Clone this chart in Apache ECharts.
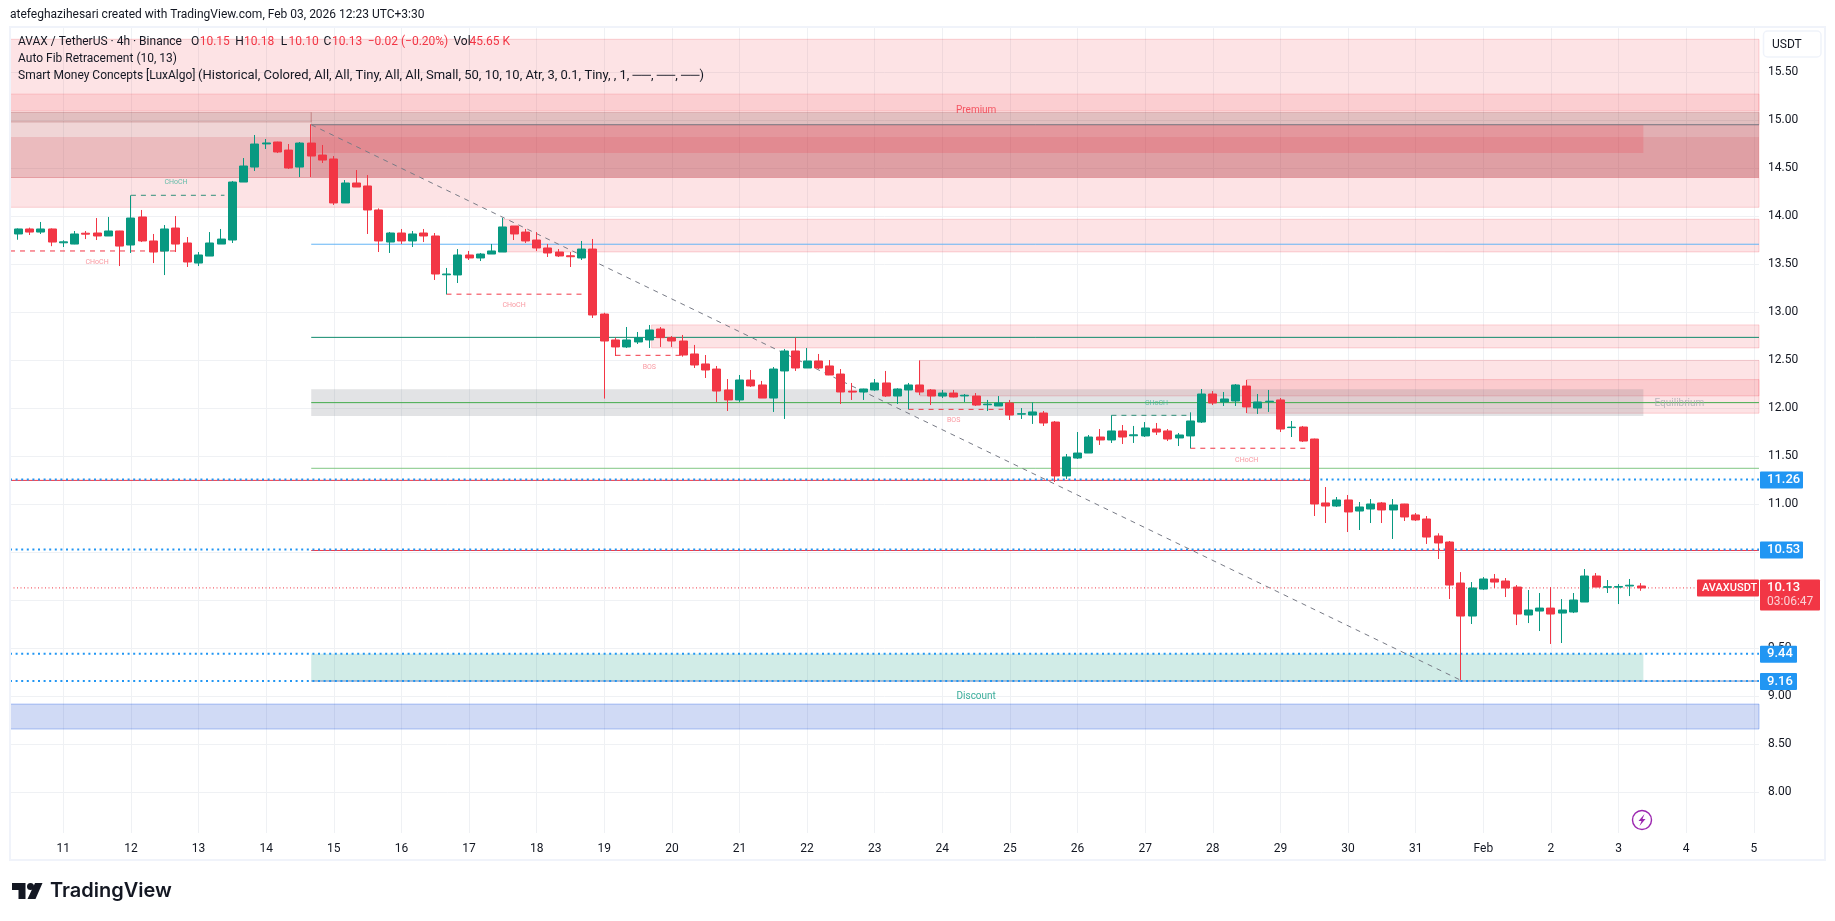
<!DOCTYPE html>
<html><head><meta charset="utf-8">
<style>html,body{margin:0;padding:0;background:#fff}#c{width:1835px;height:921px}</style>
<script src="https://cdn.jsdelivr.net/npm/echarts@6/dist/echarts.min.js"></script>
</head><body><div id="c"></div>
<script>
const opens=[13.69,13.817,13.869,13.837,13.869,13.725,13.712,13.825,13.827,13.796,13.848,13.702,13.994,13.744,13.639,13.879,13.723,13.514,13.587,13.712,13.754,14.358,14.514,14.755,14.775,14.691,14.514,14.764,14.639,14.598,14.14,14.348,14.317,14.067,13.733,13.827,13.744,13.827,13.796,13.392,13.39,13.598,13.567,13.608,13.629,13.9,13.837,13.754,13.671,13.629,13.59,13.567,13.66,12.983,12.713,12.64,12.692,12.713,12.827,12.737,12.702,12.567,12.463,12.41,12.192,12.088,12.296,12.244,12.108,12.39,12.598,12.421,12.494,12.442,12.358,12.18,12.171,12.192,12.265,12.129,12.192,12.244,12.192,12.129,12.16,12.13,12.129,12.038,12.025,12.056,11.94,11.931,11.952,11.858,11.296,11.483,11.535,11.702,11.671,11.765,11.715,11.713,11.785,11.765,11.692,11.713,11.858,12.15,12.067,12.077,12.233,12.004,12.07,12.088,11.8,11.806,11.681,11.015,10.983,11.046,10.931,10.952,11.015,10.942,11.004,10.89,10.848,10.671,10.608,10.181,9.837,10.118,10.223,10.202,10.139,9.848,9.889,9.92,9.868,9.879,9.983,10.254,10.136,10.138,10.15,10.15];
const closes=[13.82,13.869,13.837,13.869,13.733,13.735,13.817,13.815,13.796,13.848,13.691,13.983,13.744,13.629,13.869,13.712,13.525,13.598,13.723,13.764,14.358,14.525,14.754,14.765,14.671,14.504,14.764,14.629,14.587,14.14,14.348,14.306,14.067,13.744,13.827,13.744,13.817,13.796,13.4,13.4,13.598,13.567,13.608,13.64,13.89,13.817,13.744,13.671,13.619,13.588,13.58,13.66,12.973,12.702,12.64,12.713,12.737,12.817,12.737,12.702,12.556,12.452,12.4,12.181,12.088,12.296,12.234,12.108,12.41,12.598,12.421,12.494,12.421,12.348,12.171,12.17,12.202,12.265,12.129,12.202,12.244,12.171,12.129,12.16,12.119,12.137,12.035,12.045,12.056,11.931,11.945,11.963,11.848,11.296,11.494,11.535,11.702,11.671,11.765,11.702,11.725,11.796,11.754,11.681,11.723,11.869,12.15,12.056,12.098,12.244,12.015,12.067,12.075,11.785,11.805,11.66,11.004,10.983,11.046,10.921,10.973,11.004,10.942,10.994,10.869,10.838,10.66,10.598,10.16,9.837,10.129,10.223,10.191,10.129,9.858,9.9,9.92,9.858,9.9,10.004,10.254,10.139,10.143,10.145,10.158,10.13];
const lows=[13.65,13.757,13.806,13.817,13.69,13.681,13.71,13.764,13.754,13.796,13.483,13.619,13.733,13.514,13.389,13.629,13.473,13.483,13.587,13.712,13.723,14.358,14.473,14.702,14.66,14.494,14.41,14.41,14.556,14.119,14.14,14.306,13.817,13.629,13.619,13.713,13.681,13.733,13.338,13.188,13.306,13.546,13.535,13.608,13.629,13.754,13.723,13.64,13.577,13.577,13.473,13.546,12.942,12.102,12.546,12.629,12.671,12.629,12.64,12.64,12.539,12.421,12.317,12.067,11.973,12.067,12.223,12.108,11.963,11.89,12.39,12.421,12.41,12.348,12.046,12.088,12.088,12.181,12.119,12.046,11.99,12.14,12.035,12.108,12.115,12.067,12.025,11.973,12.025,11.879,11.89,11.838,11.817,11.233,11.265,11.473,11.535,11.619,11.64,11.629,11.64,11.702,11.723,11.66,11.608,11.584,11.848,12.035,12.025,12.025,11.952,11.942,11.963,11.754,11.702,11.65,10.879,10.806,10.973,10.712,10.733,10.806,10.806,10.64,10.827,10.827,10.588,10.431,10.014,9.171,9.754,10.108,10.129,10.035,9.743,9.764,9.681,9.546,9.556,9.868,9.983,10.139,10.077,9.962,10.045,10.10];
const highs=[13.85,13.875,13.883,13.942,13.875,13.751,13.848,13.848,13.983,13.994,13.85,14.219,14.067,13.817,13.91,14.004,13.785,13.629,13.837,13.869,14.369,14.608,14.848,14.806,14.778,14.754,14.775,14.96,14.744,14.629,14.379,14.483,14.431,14.084,13.838,13.869,13.848,13.869,13.827,13.463,13.66,13.64,13.619,13.713,13.983,13.9,13.869,13.837,13.713,13.66,13.629,13.744,13.765,12.997,12.737,12.848,12.796,12.869,12.848,12.754,12.765,12.661,12.556,12.442,12.306,12.348,12.4,12.286,12.431,12.619,12.737,12.629,12.567,12.504,12.41,12.265,12.205,12.306,12.39,12.21,12.265,12.5,12.202,12.192,12.192,12.15,12.16,12.088,12.129,12.088,12.004,12.063,11.973,11.869,11.525,11.754,11.723,11.785,11.928,11.827,11.817,11.858,11.848,11.785,11.744,11.959,12.202,12.181,12.171,12.254,12.296,12.15,12.192,12.108,11.869,11.817,11.685,11.181,11.077,11.098,11.025,11.056,11.025,11.056,11.006,10.91,10.879,10.699,10.619,10.295,10.191,10.243,10.275,10.233,10.16,10.108,10.077,10.139,10.014,10.077,10.327,10.285,10.212,10.17,10.223,10.18];

const priceTicks=[8,8.5,9,9.5,10,10.5,11,11.5,12,12.5,13,13.5,14,14.5,15,15.5];
const dayTickLabels=['11','12','13','14','15','16','17','18','19','20','21','22','23','24','25','26','27','28','29','30','31','Feb','2','3','4','5'];

const fibStart=[27,14.955], fibEnd=[129,9.168];
const levelPrices={blue:13.71,teal:12.74,equilibrium:12.06,lightGreen:11.376,red1126:11.25,red1053:10.52,fibLow:9.16};
const dottedLevels=[11.26,10.53,9.445,9.16];
const lastPrice=10.13;
const structureRed=[[0,13.64,15],[39,13.19,51.3],[54,12.553,60],[80,11.99,88.4],[105,11.585,115.3]];
const structureGreen=[[11,14.22,19.3],[98,11.928,105]];
const labelTexts=['CHoCH','CHoCH','CHoCH','BOS','BOS','CHoCH','CHoCH','Equilibrium','Premium','Discount'];
const labelIndex=[8,15,45,57,84,102,110,148.4,86,86];
const labelPrice=[13.518,14.351,13.074,12.428,11.872,12.053,11.455,12.05,15.10,9.0];

// x axis is the bar number; a day is six 4h bars, Jan 11 is bar 5
const t=i=>i;
const xMin=0.272, xMax=155.46;
const yMax=15.973,yMin=7.577;
const dayTicks=dayTickLabels.map((_,i)=>5+6*i);
const candles=opens.map((o,i)=>[i,o,closes[i],lows[i],highs[i]]);

const UP='#089981',DN='#f23645';
function band(x1,x2,p1,p2,color,border){return [{xAxis:x1,yAxis:p1,itemStyle:{color,borderColor:border||'transparent',borderWidth:border?1:0}},{xAxis:x2,yAxis:p2}];}
const R=a=>`rgba(242,54,69,${a})`;
const bands=[
 band(xMin,xMax,15.845,14.095,R(.14),R(.2)),
 band(xMin,xMax,15.275,15.10,R(.12),R(.16)),
 band(xMin,t(27),15.084,14.983,'rgba(84,8,0,.16)','rgba(160,50,50,.25)'),
 band(xMin,t(27),14.983,14.827,'rgba(123,100,90,.1)'),
 band(xMin,t(27),14.827,14.407,'rgba(165,32,35,.2)'),
 band(t(27),xMax,15.084,14.955,'rgba(84,8,0,.16)','rgba(160,50,50,.2)'),
 band(t(27),xMax,14.955,14.827,'rgba(166,57,63,.3)'),
 band(t(27),xMax,14.827,14.407,'rgba(156,3,13,.3)'),
 band(xMin,xMax,14.407,14.40,'rgba(200,60,70,.5)'),
 band(t(27),t(145.2),14.955,14.66,R(.2)),
 band(t(44),xMax,13.97,13.63,R(.14),R(.2)),
 band(t(57.2),xMax,12.87,12.63,R(.14),R(.2)),
 band(t(81),xMax,12.5,12.13,R(.14),R(.2)),
 band(t(110),xMax,12.3,11.95,R(.14),R(.2)),
 band(t(27),t(145.2),12.2,11.92,'rgba(120,123,134,.215)'),
 band(t(27),t(145.2),9.445,9.16,'rgba(8,153,129,.19)'),
 band(xMin,xMax,8.92,8.66,'rgba(20,70,205,.2)','rgba(41,98,230,.35)')
];
function line(points,color,width,type,z){return {type:'line',data:points,showSymbol:false,symbol:'none',silent:true,animation:false,z:z||3,clip:true,lineStyle:{color,width,type:type||'solid',cap:'butt'}};}
const series=[{type:'line',data:[],silent:true,animation:false,z:1,markArea:{silent:true,animation:false,z:1,data:bands}}];
series.push(line([[t(27),levelPrices.blue],[xMax,levelPrices.blue]],'#64b5f6',1));
series.push(line([[t(27),levelPrices.teal],[xMax,levelPrices.teal]],'#0f8a6c',1));
series.push(line([[t(27),levelPrices.equilibrium],[xMax,levelPrices.equilibrium]],'#43ab4c',1));
series.push(line([[t(27),levelPrices.lightGreen],[xMax,levelPrices.lightGreen]],'#81c784',1));
series.push(line([[t(27),14.955],[xMax,14.955]],'#787b86',1));
series.push(line([[t(27),levelPrices.fibLow],[xMax,levelPrices.fibLow]],'#6d86b8',1));
series.push(line([[xMin,levelPrices.red1126],[t(116),levelPrices.red1126]],DN,1));
series.push(line([[t(27),levelPrices.red1053],[xMax,levelPrices.red1053]],DN,1));
dottedLevels.forEach(p=>series.push(line([[xMin,p],[xMax,p]],'#2196f3',2,[2,3.6])));
series.push(line([[xMin,lastPrice],[xMax,lastPrice]],DN,1,[1,2.5]));
series.push(line([[t(fibStart[0]),fibStart[1]],[t(fibEnd[0]),fibEnd[1]]],'#787b86',1,[5,5]));
structureRed.forEach(s=>series.push(line([[s[0]===0?xMin:t(s[0]),s[1]],[t(s[2]),s[1]]],DN,1,[5,5])));
structureGreen.forEach(s=>series.push(line([[t(s[0]),s[1]],[t(s[2]),s[1]]],'#2f8f79',1,[5,5])));
series.push({type:'candlestick',data:candles,barWidth:8.5,z:4,silent:true,animation:false,clip:true,
 itemStyle:{color:UP,color0:DN,borderColor:UP,borderColor0:DN,borderColorDoji:UP,borderWidth:1}});
const labelColor=['#f8808a','#3fb39b','#f8808a','#f8808a','#f8808a','#3fb39b','#f8808a','#a9abb3','#f23645','#089981'];
series.push({type:'scatter',symbolSize:0,silent:true,animation:false,z:5,
 data:labelTexts.map((s,i)=>({value:[t(labelIndex[i]),labelPrice[i]],label:{show:true,position:'inside',formatter:s,color:labelColor[i],fontFamily:'Roboto',fontSize:i>=7?10:7}}))});

const chart=echarts.init(document.getElementById('c'),null,{renderer:'canvas'});
chart.setOption({
 animation:false,backgroundColor:'#fff',
 grid:{left:10,right:76,top:27,bottom:88,show:false},
 tooltip:{show:false},
 xAxis:{type:'value',min:xMin,max:xMax,
  axisLine:{show:false},axisTick:{show:false,customValues:dayTicks},
  splitLine:{show:true,lineStyle:{color:'#eff1f4',width:1}},
  axisLabel:{customValues:dayTicks,margin:10,color:'#131722',fontFamily:'Roboto',fontSize:12,hideOverlap:false,
   formatter:v=>dayTickLabels[dayTicks.indexOf(+v)]||''}},
 yAxis:{type:'value',position:'right',min:yMin,max:yMax,
  axisLine:{show:false},axisTick:{show:false,customValues:priceTicks},
  splitLine:{show:true,lineStyle:{color:'#eff1f4',width:1}},
  axisLabel:{customValues:priceTicks,margin:9,color:'#131722',fontFamily:'Roboto',fontSize:12,align:'left',padding:[2,0,0,0],formatter:v=>(+v).toFixed(2)}},
 series
});

const yOf=p=>chart.convertToPixel({yAxisIndex:0},p);
const F='Roboto';
const txt=(x,y,s,fill,size,extra)=>({type:'text',z:50,silent:true,x,y,style:Object.assign({text:s,fill:fill||'#131722',fontFamily:F,fontSize:size||12,verticalAlign:'middle'},extra||{})});
const g=[];
g.push({type:'rect',z:39,silent:true,shape:{x:0,y:20,width:9,height:850},style:{fill:'#fff'}});
g.push({type:'rect',z:40,silent:true,shape:{x:10,y:27,width:1815,height:833},style:{fill:'none',stroke:'#f0f3fa',lineWidth:2}});
g.push(txt(10,15,'atefeghazihesari created with TradingView.com, Feb 03, 2026 12:23 UTC+3:30','#131722',12));
g.push(txt(18,41.7,'AVAX / TetherUS · 4h · Binance'));
[[191,'O'],[235.3,'H'],[280.7,'L'],[323.5,'C'],[453.5,'Vol']].forEach(a=>g.push(txt(a[0],41.7,a[1])));
[[199.7,'10.15'],[244,'10.18'],[288.5,'10.10'],[332,'10.13'],[367.7,'−0.02 (−0.20%)'],[469.4,'45.65 K']].forEach(a=>g.push(txt(a[0],41.7,a[1],DN)));
g.push(txt(18,59,'Auto Fib Retracement (10, 13)'));
g.push(txt(18,76,'Smart Money Concepts [LuxAlgo]'));
g.push(txt(198,76,'(Historical, Colored, All, All, Tiny, All, All, Small, 50, 10, 10, Atr, 3, 0.1, Tiny, , 1, ──, ──, ──)','#131722',13));
g.push({type:'rect',z:45,silent:true,shape:{x:1763.5,y:31,width:57.5,height:26,r:4},style:{fill:'#fff',stroke:'#f0f3fa',lineWidth:1.5}});
g.push(txt(1772,44.5,'USDT'));
const badge=(x,w,yc,h,color)=>({type:'rect',z:46,silent:true,shape:{x,y:yc-h/2,width:w,height:h,r:1},style:{fill:color}});
[[11.26,43],[10.53,43],[9.445,37],[9.16,37]].forEach(a=>{const y=yOf(a[0]);
 g.push(badge(1760,a[1],y+.5,17,'#2196f3'));
 g.push(txt(1767,y+.5,a[0]===9.445?'9.44':a[0].toFixed(2),'#fff',13,{fontWeight:500}));});
const yl=yOf(lastPrice);
g.push({type:'rect',z:46,silent:true,shape:{x:1760,y:yl-8.5,width:60,height:31,r:1},style:{fill:DN}});
g.push(badge(1697,62,yl,17,DN));
g.push(txt(1702,yl,'AVAXUSDT','#fff',11,{fontWeight:500}));
g.push(txt(1767,yl,'10.13','#fff',13,{fontWeight:500}));
g.push(txt(1767,yl+14.5,'03:06:47','#fbd0d4',12));
g.push({type:'circle',z:46,silent:true,shape:{cx:1642,cy:820,r:9.5},style:{fill:'none',stroke:'#9c27b0',lineWidth:1.4}});
g.push({type:'polygon',z:46,silent:true,shape:{points:[[1644.5,814],[1638.5,821],[1641.5,821],[1639.5,826],[1645.5,819],[1642.5,819]]},style:{fill:'#9c27b0'}});
g.push({type:'polygon',z:46,silent:true,shape:{points:[[12,883],[25.5,883],[25.5,899],[18.5,899],[18.5,890],[12,890]]},style:{fill:'#131722'}});
g.push({type:'circle',z:46,silent:true,shape:{cx:30.5,cy:886.5,r:3.5},style:{fill:'#131722'}});
g.push({type:'polygon',z:46,silent:true,shape:{points:[[35,883],[42.5,883],[35.5,899],[27.5,899]]},style:{fill:'#131722'}});
g.push(txt(50,891,'TradingView','#131722',20,{fontFamily:'Inter',fontWeight:600}));
chart.setOption({graphic:g});
</script></body></html>
